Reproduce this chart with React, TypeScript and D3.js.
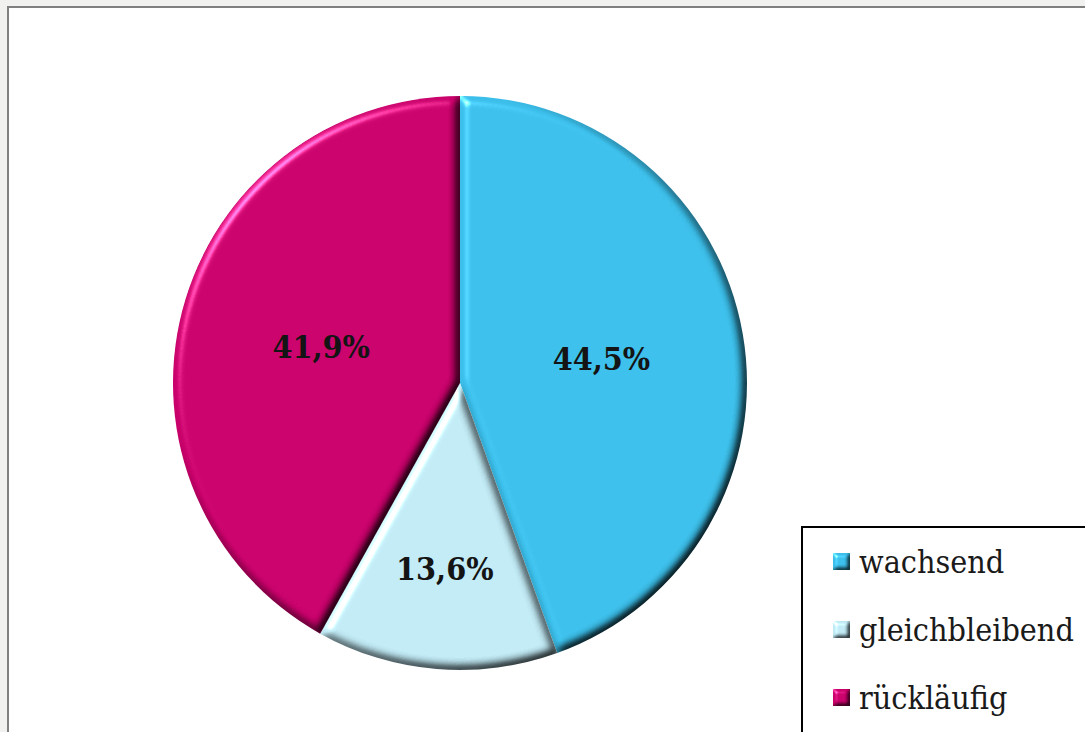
import React from 'react';
import * as d3 from 'd3';

const categories = ['wachsend', 'gleichbleibend', 'rückläufig'];
const values = [44.5, 13.6, 41.9];
const colors = ['#3abde8', '#bfe8f3', '#c8006a'];

const W = 1085;
const H = 732;
const cx = 460;
const cy = 383;
const R = 287;

const locale = d3.formatLocale({ decimal: ',', thousands: '.', grouping: [3], currency: ['', '€'] });
const fmt = locale.format('.1f');

export default function App() {
  const pie = d3.pie<number>().sort(null).value((d) => d)(values);
  const arc = d3.arc<d3.PieArcDatum<number>>().innerRadius(0).outerRadius(R);

  const labelFont = "'DejaVu Serif Condensed', 'DejaVu Serif', serif";

  return (
    <svg width={W} height={H} style={{ position: 'absolute', left: 0, top: 0, display: 'block' }}>
      <defs>
        <filter id="bevel" x="-5%" y="-5%" width="110%" height="110%" colorInterpolationFilters="sRGB">
          <feGaussianBlur in="SourceAlpha" stdDeviation="5" result="blur" />
          <feDiffuseLighting in="blur" surfaceScale="6" diffuseConstant="1.22" lightingColor="#ffffff" result="diff">
            <feDistantLight azimuth="225" elevation="55" />
          </feDiffuseLighting>
          <feComposite in="SourceGraphic" in2="diff" operator="arithmetic" k1="1" k2="0" k3="0" k4="0" result="shaded" />
          <feSpecularLighting in="blur" surfaceScale="6" specularConstant="0.55" specularExponent="30" lightingColor="#ffffff" result="spec">
            <feDistantLight azimuth="225" elevation="35" />
          </feSpecularLighting>
          <feComposite in="spec" in2="SourceAlpha" operator="in" result="specIn" />
          <feComposite in="shaded" in2="specIn" operator="arithmetic" k1="0" k2="1" k3="1" k4="0" />
        </filter>
        <filter id="bevelSmall" x="-20%" y="-20%" width="140%" height="140%" colorInterpolationFilters="sRGB">
          <feGaussianBlur in="SourceAlpha" stdDeviation="2" result="blur" />
          <feDiffuseLighting in="blur" surfaceScale="3" diffuseConstant="1.22" lightingColor="#ffffff" result="diff">
            <feDistantLight azimuth="225" elevation="55" />
          </feDiffuseLighting>
          <feComposite in="SourceGraphic" in2="diff" operator="arithmetic" k1="1" k2="0" k3="0" k4="0" result="shaded" />
          <feSpecularLighting in="blur" surfaceScale="3" specularConstant="0.5" specularExponent="30" lightingColor="#ffffff" result="spec">
            <feDistantLight azimuth="225" elevation="35" />
          </feSpecularLighting>
          <feComposite in="spec" in2="SourceAlpha" operator="in" result="specIn" />
          <feComposite in="shaded" in2="specIn" operator="arithmetic" k1="0" k2="1" k3="1" k4="0" />
        </filter>
      </defs>

      <rect x={0} y={0} width={W} height={H} fill="#f1f1f0" />
      <rect x={8} y={7} width={W + 20} height={H + 20} fill="#ffffff" stroke="#808080" strokeWidth={2} />

      <g transform={`translate(${cx},${cy})`}>
        {pie.map((p, i) => (
          <path key={i} d={arc(p) || ''} fill={colors[i]} filter="url(#bevel)" />
        ))}
        {pie.map((p, i) => {
          const mid = (p.startAngle + p.endAngle) / 2;
          const span = p.endAngle - p.startAngle;
          const lr = span < Math.PI / 3 ? R * 0.65 : R * 0.5;
          const x = lr * Math.sin(mid);
          const y = -lr * Math.cos(mid);
          return (
            <text
              key={'l' + i}
              x={x}
              y={y}
              dy="0.36em"
              textAnchor="middle"
              fontFamily={labelFont}
              fontWeight="bold"
              fontSize={32}
              fill="#141414"
            >
              {fmt(values[i]) + '%'}
            </text>
          );
        })}
      </g>

      <g>
        <rect x={802} y={527} width={400} height={300} fill="#ffffff" stroke="#000000" strokeWidth={2} />
        {categories.map((c, i) => {
          const base = 573 + i * 68;
          return (
            <g key={c}>
              <rect x={833} y={base - 20} width={17} height={17} fill={colors[i]} filter="url(#bevelSmall)" />
              <text x={859} y={base} fontFamily={labelFont} fontSize={32} fill="#1a1a1a">
                {c}
              </text>
            </g>
          );
        })}
      </g>
    </svg>
  );
}
